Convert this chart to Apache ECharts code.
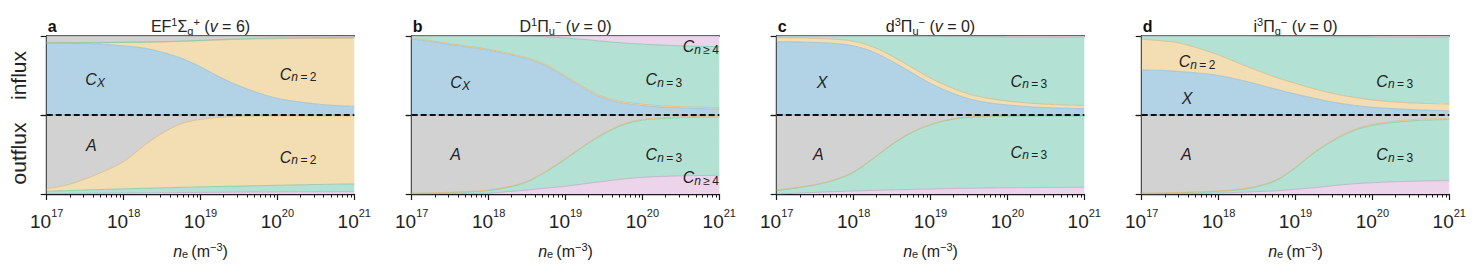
<!DOCTYPE html>
<html><head><meta charset="utf-8">
<script src="https://cdn.jsdelivr.net/npm/echarts@6/dist/echarts.min.js"></script>
<style>html,body{margin:0;padding:0;background:#fff}#c{width:1476px;height:273px}</style>
</head><body><div id="c"></div>
<script>
// ---------- data (log10 of n_e in m^-3) ----------
const logNe = [17,17.25,17.5,17.75,18,18.25,18.5,18.75,19,19.25,19.5,19.75,20,20.25,20.5,20.75,21];
const majorTicks = [17,18,19,20,21];

// Panel a: EF(v=6)
const aInBlue   = [.91,.91,.905,.895,.875,.85,.795,.72,.61,.48,.37,.28,.21,.17,.14,.12,.11];
const aInOrange = [.005,.005,.01,.022,.045,.072,.131,.212,.331,.469,.587,.682,.756,.798,.829,.848,.86];
const aInGreen  = [0,0,0,0,0,.001,.002,.003,.004,.006,.007,.008,.009,.01,.011,.012,.012];
const aInGray   = [.085,.085,.085,.083,.08,.077,.072,.065,.055,.045,.036,.03,.025,.022,.02,.02,.018];
const aOutPink  = [.005,.006,.008,.01,.012,.014,.016,.018,.02,.022,.024,.026,.027,.028,.028,.029,.03];
const aOutGreen = [.03,.036,.042,.048,.053,.058,.062,.066,.07,.073,.076,.08,.083,.087,.092,.095,.097];
const aOutOrange= [.035,.068,.14,.232,.345,.528,.692,.806,.855,.875,.882,.882,.88,.875,.87,.866,.863];
const aOutGray  = [.93,.89,.81,.71,.59,.40,.23,.11,.055,.03,.018,.012,.01,.01,.01,.01,.01];

// Panel b: D(v=0)
const bInBlue   = [.96,.93,.89,.855,.82,.77,.71,.62,.48,.33,.21,.15,.12,.10,.09,.082,.076];
const bInOrange = [.012,.012,.013,.013,.014,.014,.015,.015,.016,.016,.016,.016,.016,.016,.016,.016,.016];
const bInGreen  = [.028,.058,.097,.132,.166,.216,.272,.355,.479,.609,.706,.746,.761,.769,.77,.772,.773];
const bInPink   = [0,0,0,0,0,0,.003,.01,.025,.045,.068,.088,.103,.115,.124,.13,.135];
const bOutPink  = [0,.003,.006,.008,.01,.03,.05,.075,.097,.13,.16,.19,.21,.222,.23,.234,.236];
const bOutGreen = [.005,.007,.011,.02,.034,.054,.103,.208,.345,.482,.601,.686,.725,.733,.735,.738,.741];
const bOutOrange= [.005,.005,.005,.005,.006,.006,.007,.007,.008,.008,.009,.009,.01,.01,.01,.01,.01];
const bOutGray  = [.99,.985,.978,.967,.95,.91,.84,.71,.55,.38,.23,.115,.055,.035,.025,.018,.013];

// Panel c: d(v=0)
const cInBlue   = [.928,.925,.918,.905,.875,.80,.68,.54,.40,.29,.205,.155,.127,.107,.094,.086,.08];
const cInOrange = [.05,.05,.052,.055,.058,.062,.065,.066,.066,.064,.06,.055,.05,.046,.043,.041,.04];
const cInGreen  = [.022,.025,.03,.04,.067,.138,.255,.392,.53,.64,.727,.78,.811,.834,.849,.858,.865];
const cInPink   = [0,0,0,0,0,0,0,.002,.004,.006,.008,.01,.012,.013,.014,.015,.015];
const cOutPink  = [0,.01,.02,.03,.038,.045,.052,.058,.063,.068,.072,.076,.079,.081,.083,.084,.085];
const cOutGreen = [.045,.065,.095,.145,.237,.40,.573,.717,.812,.872,.898,.905,.907,.906,.905,.905,.904];
const cOutOrange= [.005,.005,.005,.005,.005,.005,.005,.005,.005,.005,.005,.005,.005,.005,.005,.005,.005];
const cOutGray  = [.95,.92,.88,.82,.72,.55,.37,.22,.12,.055,.025,.014,.009,.008,.007,.006,.006];

// Panel d: i(v=0)
const dInBlue   = [.57,.565,.55,.53,.50,.45,.39,.325,.265,.21,.16,.125,.097,.082,.07,.06,.054];
const dInOrange = [.388,.375,.36,.31,.26,.21,.175,.15,.135,.12,.11,.10,.093,.086,.083,.085,.085];
const dInGreen  = [.042,.06,.09,.16,.24,.339,.433,.521,.594,.662,.72,.764,.798,.819,.833,.84,.846];
const dInPink   = [0,0,0,0,0,.001,.002,.004,.006,.008,.01,.011,.012,.013,.014,.015,.015];
const dOutPink  = [0,.002,.004,.007,.012,.02,.03,.04,.06,.08,.107,.128,.143,.153,.161,.166,.169];
const dOutGreen = [.006,.009,.012,.016,.023,.032,.064,.133,.272,.446,.573,.671,.725,.752,.765,.771,.774];
const dOutOrange= [.004,.004,.004,.005,.005,.006,.006,.007,.008,.009,.01,.011,.012,.013,.014,.015,.015];
const dOutGray  = [.99,.985,.98,.972,.96,.942,.90,.82,.66,.465,.31,.19,.12,.082,.06,.048,.042];

const panelLetters = ['a','b','c','d'];
const panelTitles = [
  '{b|EF}{sp|1}{b|Σ}{sb|g}{sp|+}{b| (}{it|v}{b| = 6)}',
  '{b|D}{sp|1}{b|Π}{sb|u}{sp|−}{b| (}{it|v}{b| = 0)}',
  '{b|d}{sp|3}{b|Π}{sb|u}{sp|−}{b| (}{it|v}{b| = 0)}',
  '{b|i}{sp|3}{b|Π}{sb|g}{sp|−}{b| (}{it|v}{b| = 0)}'
];
const yNames = ['influx','outflux'];

// ---------- styles ----------
const FONT = '"Liberation Sans", Arial, sans-serif';
const FILL = {gray:'#d2d2d2', blue:'#b1d3e5', orange:'#f3ddb3', green:'#b3e1d3', pink:'#ecd5eb'};
const EDGE = {gray:'#a3a3a3', blue:'#98bfd2', orange:'#d6bb86', green:'#86c6a8', pink:'#c2aac8'};
const PANEL_LEFT = [46.7, 411.7, 776.7, 1141.7];
const PANEL_W = 307.6;
const TOP = 36, MID = 115, BOT = 194;
const AXC = '#1a1a1a';

const panels = [
  {inflow:[['blue',aInBlue],['orange',aInOrange],['green',aInGreen],['gray',aInGray]],
   outflow:[['pink',aOutPink],['green',aOutGreen],['orange',aOutOrange],['gray',aOutGray]],
   labels:[['in',17.63,.44,'{c|C}{si|X}'],['in',20.27,.51,'{c|C}{si|n}{s|\u2009=\u20092}'],['out',17.58,.61,'{c|A}'],['out',20.27,.46,'{c|C}{si|n}{s|\u2009=\u20092}']]},
  {inflow:[['blue',bInBlue],['orange',bInOrange],['green',bInGreen],['pink',bInPink]],
   outflow:[['pink',bOutPink],['green',bOutGreen],['orange',bOutOrange],['gray',bOutGray]],
   labels:[['in',17.63,.40,'{c|C}{si|X}'],['in',20.28,.44,'{c|C}{si|n}{s|\u2009=\u20093}'],['in',20.76,.86,'{c|C}{si|n}{s|\u2009≥\u20094}'],['out',17.57,.49,'{c|A}'],['out',20.28,.49,'{c|C}{si|n}{s|\u2009=\u20093}'],['out',20.76,.2,'{c|C}{si|n}{s|\u2009≥\u20094}']]},
  {inflow:[['blue',cInBlue],['orange',cInOrange],['green',cInGreen],['pink',cInPink]],
   outflow:[['pink',cOutPink],['green',cOutGreen],['orange',cOutOrange],['gray',cOutGray]],
   labels:[['in',17.59,.40,'{c|X}'],['in',20.28,.42,'{c|C}{si|n}{s|\u2009=\u20093}'],['out',17.54,.49,'{c|A}'],['out',20.28,.52,'{c|C}{si|n}{s|\u2009=\u20093}']]},
  {inflow:[['blue',dInBlue],['orange',dInOrange],['green',dInGreen],['pink',dInPink]],
   outflow:[['pink',dOutPink],['green',dOutGreen],['orange',dOutOrange],['gray',dOutGray]],
   labels:[['in',17.72,.67,'{c|C}{si|n}{s|\u2009=\u20092}'],['in',17.59,.20,'{c|X}'],['in',20.29,.42,'{c|C}{si|n}{s|\u2009=\u20093}'],['out',17.58,.49,'{c|A}'],['out',20.29,.49,'{c|C}{si|n}{s|\u2009=\u20093}']]}
];

// minor ticks at 2..9 x 10^k
const minorTicks = [];
for (let d = 17; d < 21; d++) for (let k = 2; k <= 9; k++) minorTicks.push(d + Math.log10(k));

const grid = [], xAxis = [], yAxis = [], series = [];
const noAxis = {show:false};
const cats = logNe.map(String);

panels.forEach((p, i) => {
  const left = PANEL_LEFT[i];
  grid.push({left, width: PANEL_W, top: TOP, height: MID - TOP});
  grid.push({left, width: PANEL_W, top: MID, height: BOT - MID});
  const gT = 2*i, gB = 2*i+1;
  // 4i: top grid category axis (draws top frame line)
  xAxis.push({gridIndex:gT, type:'category', data:cats, boundaryGap:false, position:'top',
    axisLine:{show:true, onZero:false, lineStyle:{color:AXC, width:1.5}},
    axisTick:noAxis, axisLabel:noAxis, splitLine:noAxis});
  // 4i+1: bottom grid category axis (hidden)
  xAxis.push({gridIndex:gB, type:'category', data:cats, boundaryGap:false, show:false});
  // 4i+2: bottom main value axis
  xAxis.push({gridIndex:gB, type:'value', min:17, max:21, interval:1, position:'bottom',
    axisLine:{show:true, onZero:false, lineStyle:{color:AXC, width:1.4}},
    axisTick:{show:true, length:6, lineStyle:{color:AXC, width:1.2}},
    splitLine:noAxis,
    axisLabel:{show:true, margin:13, formatter: v => '{b|10}{s|' + v + '}',
      rich:{b:{fontFamily:FONT, fontSize:19, color:'#222', verticalAlign:'bottom'},
            s:{fontFamily:FONT, fontSize:11, color:'#222', verticalAlign:'bottom', padding:[0,0,13,0]}}},
    name:'{i|n}{e|e}{r|\u2009(m}{p|−3}{r|)}', nameLocation:'middle', nameGap:47,
    nameTextStyle:{rich:{
      i:{fontFamily:FONT, fontSize:16, fontStyle:'italic', color:'#222', verticalAlign:'bottom', padding:[0,0,1,0]},
      e:{fontFamily:FONT, fontSize:11, color:'#222', verticalAlign:'bottom', padding:[0,0,1,0]},
      r:{fontFamily:FONT, fontSize:16, color:'#222', verticalAlign:'bottom', padding:[0,0,1,0]},
      p:{fontFamily:FONT, fontSize:11, color:'#222', verticalAlign:'bottom', padding:[0,0,8,0]}}}});
  // 4i+3: minor ticks
  xAxis.push({gridIndex:gB, type:'value', min:17, max:21, position:'bottom',
    axisLine:{show:false, onZero:false},
    axisTick:{show:true, length:3.5, customValues:minorTicks, lineStyle:{color:AXC, width:1}},
    axisLabel:{show:false}, splitLine:noAxis});
  [gT, gB].forEach(g => yAxis.push({gridIndex:g, type:'value', min:0, max:1, interval:1,
    axisLine:{show:true, onZero:false, lineStyle:{color:AXC, width:1.4}},
    axisTick:{show:true, length:6, lineStyle:{color:AXC, width:1.2}},
    axisLabel:noAxis, splitLine:noAxis}));

  const addStack = (layers, g, xi, stackName, withDash) => {
    layers.forEach(([c, vals], k) => {
      const s = {type:'line', xAxisIndex:xi, yAxisIndex:g, stack:stackName,
        data: vals.slice(),
        symbol:'none', smooth:0.35, silent:true, z:2,
        lineStyle:{width:0.8, color:EDGE[c]},
        itemStyle:{color:FILL[c]},
        areaStyle:{color:FILL[c], opacity:1}};
      if (withDash && k === layers.length - 1) {
        s.markLine = {silent:true, symbol:'none', label:{show:false}, z:10,
          lineStyle:{type:[6,3], width:2, color:'#111'}, data:[{yAxis:1}]};
      }
      series.push(s);
    });
  };
  addStack(p.inflow, gT, 4*i, 'in'+i, false);
  addStack(p.outflow, gB, 4*i+1, 'out'+i, true);
});

const chart = echarts.init(document.getElementById('c'), null, {renderer:'svg', width:1476, height:273});
chart.setOption({animation:false, backgroundColor:'#fff', grid, xAxis, yAxis, series});

// ---------- text annotations ----------
const graphic = [];
const titleRich = {
  b:{fontFamily:FONT, fontSize:16, fill:'#222', verticalAlign:'bottom', padding:[0,0,2,0]},
  it:{fontFamily:FONT, fontSize:16, fontStyle:'italic', fill:'#222', verticalAlign:'bottom', padding:[0,0,2,0]},
  sp:{fontFamily:FONT, fontSize:11, fill:'#222', verticalAlign:'bottom', padding:[0,0,8.5,0]},
  sb:{fontFamily:FONT, fontSize:11, fill:'#222', verticalAlign:'bottom', padding:[0,0,0,0]}
};
const labRich = {
  c:{fontFamily:FONT, fontSize:16, fontStyle:'italic', fill:'#222', verticalAlign:'bottom', padding:[0,0,1,0]},
  si:{fontFamily:FONT, fontSize:12, fontStyle:'italic', fill:'#222', verticalAlign:'bottom', padding:[0,0,0,0]},
  s:{fontFamily:FONT, fontSize:12, fill:'#222', verticalAlign:'bottom', padding:[0,0,0,0]}
};
panels.forEach((p, i) => {
  const left = PANEL_LEFT[i];
  graphic.push({type:'text', x:left + 1, y:26, silent:true,
    style:{text:panelLetters[i], fontFamily:FONT, fontSize:16, fontWeight:'bold', fill:'#111', align:'left', verticalAlign:'middle'}});
  graphic.push({type:'text', x:left + PANEL_W/2, y:36, silent:true,
    style:{text:panelTitles[i], rich:titleRich, align:'center', verticalAlign:'bottom'}});
  p.labels.forEach(([half, lx, ly, txt]) => {
    const g = half === 'in' ? 2*i : 2*i+1;
    const px = chart.convertToPixel({xAxisIndex:4*i+2}, lx);
    const py = chart.convertToPixel({yAxisIndex:g}, ly);
    graphic.push({type:'text', x:px, y:py, silent:true, z:20,
      style:{text:txt, rich:labRich, align:'center', verticalAlign:'middle'}});
  });
});
graphic.push({type:'text', x:18.5, y:(TOP+MID)/2, rotation:Math.PI/2, silent:true,
  style:{text:yNames[0], fontFamily:FONT, fontSize:21, fill:'#222', align:'center', verticalAlign:'middle'}});
graphic.push({type:'text', x:18.5, y:(MID+BOT)/2 - 1, rotation:Math.PI/2, silent:true,
  style:{text:yNames[1], fontFamily:FONT, fontSize:21, fill:'#222', align:'center', verticalAlign:'middle'}});
chart.setOption({graphic});
</script></body></html>
